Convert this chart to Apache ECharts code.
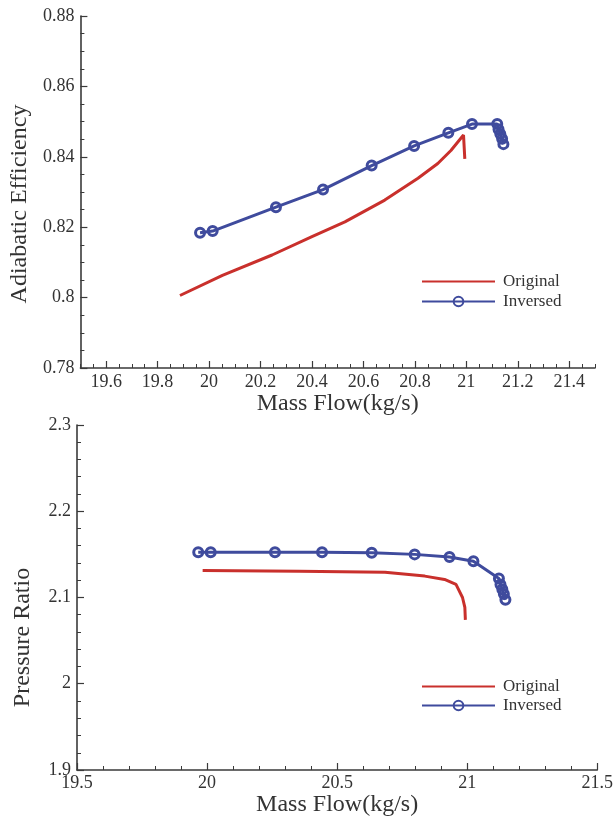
<!DOCTYPE html>
<html>
<head>
<meta charset="utf-8">
<script src="https://cdn.jsdelivr.net/npm/echarts@6/dist/echarts.min.js"></script>
<style>
html,body{margin:0;padding:0;background:#fff;}
#chart{width:616px;height:818px;}
</style>
</head>
<body>
<div id="chart"></div>
<script>
// ---- data ----
const seriesNames = ['Original', 'Inversed'];
// Top chart: Adiabatic Efficiency vs Mass Flow
const origEffFlow = [19.887, 20.052, 20.245, 20.400, 20.528, 20.683, 20.812, 20.889, 20.940, 20.989, 20.994];
const origEff     = [0.8006, 0.8063, 0.8121, 0.8173, 0.8215, 0.8277, 0.8339, 0.8381, 0.8418, 0.8462, 0.8394];
const invFlow     = [19.965, 20.014, 20.260, 20.443, 20.632, 20.797, 20.930, 21.022, 21.120, 21.125, 21.132, 21.139, 21.144];
const invEff      = [0.8184, 0.8189, 0.8257, 0.8307, 0.8375, 0.8431, 0.8468, 0.8493, 0.8493, 0.8478, 0.8465, 0.8451, 0.8436];
// Bottom chart: Pressure Ratio vs Mass Flow
const origPRFlow  = [19.983, 20.354, 20.684, 20.837, 20.913, 20.957, 20.982, 20.991, 20.993];
const origPR      = [2.1312, 2.1303, 2.1294, 2.1248, 2.1209, 2.1152, 2.1000, 2.0886, 2.0740];
const invPRFlow   = [19.966, 20.014, 20.261, 20.442, 20.633, 20.798, 20.932, 21.024, 21.122, 21.128, 21.135, 21.141, 21.147];
const invPR       = [2.1526, 2.1526, 2.1526, 2.1525, 2.1518, 2.1500, 2.1469, 2.1420, 2.1220, 2.1150, 2.1095, 2.1040, 2.0974];
// tick labels
const topFlowTicks = [19.6, 19.8, 20, 20.2, 20.4, 20.6, 20.8, 21, 21.2, 21.4];

const zip = (xs, ys) => xs.map((x, i) => [x, ys[i]]);

const RED = '#c9302c';
const BLUE = '#3f4b9d';
const AX = '#3a3a3a';
const FONT = 'Liberation Serif';

const labelStyle = {color: '#333', fontSize: 18, fontFamily: FONT};
const nameStyle = {color: '#333', fontSize: 24, fontFamily: FONT};

const chart = echarts.init(document.getElementById('chart'), null, {renderer: 'canvas'});

const redLine = {color: RED, width: 3};
const blueLine = {color: BLUE, width: 3};
const blueItem = {color: 'rgba(255,255,255,0)', borderColor: BLUE, borderWidth: 3};

const legendData = [{name: seriesNames[0], itemStyle: {opacity: 0}}, {name: seriesNames[1]}];
const legendText = {color: '#333', fontSize: 17, fontFamily: FONT, lineHeight: 17, padding: [0, 0, 0, 3]};

const option = {
  animation: false,
  backgroundColor: '#ffffff',
  textStyle: {fontFamily: FONT},
  grid: [
    {left: 77, top: 16, width: 518, height: 352},
    {left: 77, top: 425, width: 525, height: 350}
  ],
  xAxis: [
    {
      gridIndex: 0, type: 'value', min: 19.5, max: 21.5, interval: 0.1,
      position: 'bottom',
      axisLine: {show: true, lineStyle: {color: AX, width: 1.6}},
      axisTick: {show: true, inside: true, length: 7, customValues: topFlowTicks, lineStyle: {color: AX, width: 1.2}},
      axisLabel: {show: true, customValues: topFlowTicks, margin: 5, ...labelStyle},
      splitLine: {show: false},
      name: 'Mass Flow(kg/s)', nameLocation: 'middle', nameGap: 12, nameTextStyle: nameStyle
    },
    {
      gridIndex: 0, type: 'value', min: 19.5, max: 21.5, interval: 0.05,
      position: 'bottom',
      axisLine: {show: false},
      axisTick: {show: true, inside: true, length: 4, lineStyle: {color: AX, width: 1}},
      axisLabel: {show: false},
      splitLine: {show: false}
    },
    {
      gridIndex: 1, type: 'value', min: 19.5, max: 21.5, interval: 0.5,
      position: 'bottom',
      axisLine: {show: true, lineStyle: {color: AX, width: 1.6}},
      axisTick: {show: true, inside: true, length: 7, lineStyle: {color: AX, width: 1.2}},
      minorTick: {show: true, splitNumber: 5, length: 4, lineStyle: {color: AX, width: 1}},
      axisLabel: {show: true, margin: 4, showMinLabel: true, showMaxLabel: true, ...labelStyle},
      splitLine: {show: false},
      name: 'Mass Flow(kg/s)', nameLocation: 'middle', nameGap: 23, nameTextStyle: nameStyle
    }
  ],
  yAxis: [
    {
      gridIndex: 0, type: 'value', min: 0.78, max: 0.88, interval: 0.02,
      axisLine: {show: true, lineStyle: {color: AX, width: 1.6}},
      axisTick: {show: true, inside: true, length: 7, lineStyle: {color: AX, width: 1.2}},
      minorTick: {show: true, splitNumber: 4, length: 4, lineStyle: {color: AX, width: 1}},
      axisLabel: {show: true, margin: 6, ...labelStyle},
      splitLine: {show: false},
      name: 'Adiabatic Efficiency', nameLocation: 'middle', nameRotate: 90, nameGap: 42,
      nameTextStyle: {...nameStyle, padding: [0, 24, 0, 0]}
    },
    {
      gridIndex: 1, type: 'value', min: 1.9, max: 2.3, interval: 0.1,
      axisLine: {show: true, lineStyle: {color: AX, width: 1.6}},
      axisTick: {show: true, inside: true, length: 7, lineStyle: {color: AX, width: 1.2}},
      minorTick: {show: true, splitNumber: 5, length: 4, lineStyle: {color: AX, width: 1}},
      axisLabel: {show: true, margin: 6, ...labelStyle},
      splitLine: {show: false},
      name: 'Pressure Ratio', nameLocation: 'middle', nameRotate: 90, nameGap: 42,
      nameTextStyle: {...nameStyle, padding: [0, 80, 0, 0]}
    }
  ],
  legend: [
    {
      orient: 'vertical', left: 416, top: 268, itemWidth: 73, itemHeight: 12, itemGap: 3,
      data: legendData, textStyle: legendText
    },
    {
      orient: 'vertical', left: 416, top: 673, itemWidth: 73, itemHeight: 12, itemGap: 2,
      data: legendData, textStyle: legendText
    }
  ],
  series: [
    {
      name: 'Original', type: 'line', xAxisIndex: 0, yAxisIndex: 0,
      data: zip(origEffFlow, origEff), showSymbol: false, symbol: 'none',
      lineStyle: redLine, itemStyle: {color: RED}
    },
    {
      name: 'Inversed', type: 'line', xAxisIndex: 0, yAxisIndex: 0,
      data: zip(invFlow, invEff), symbol: 'circle', symbolSize: 9,
      lineStyle: blueLine, itemStyle: blueItem
    },
    {
      name: 'Original', type: 'line', xAxisIndex: 2, yAxisIndex: 1,
      data: zip(origPRFlow, origPR), showSymbol: false, symbol: 'none',
      lineStyle: redLine, itemStyle: {color: RED}
    },
    {
      name: 'Inversed', type: 'line', xAxisIndex: 2, yAxisIndex: 1,
      data: zip(invPRFlow, invPR), symbol: 'circle', symbolSize: 9,
      lineStyle: blueLine, itemStyle: blueItem
    }
  ]
};
chart.setOption(option);
</script>
</body>
</html>
